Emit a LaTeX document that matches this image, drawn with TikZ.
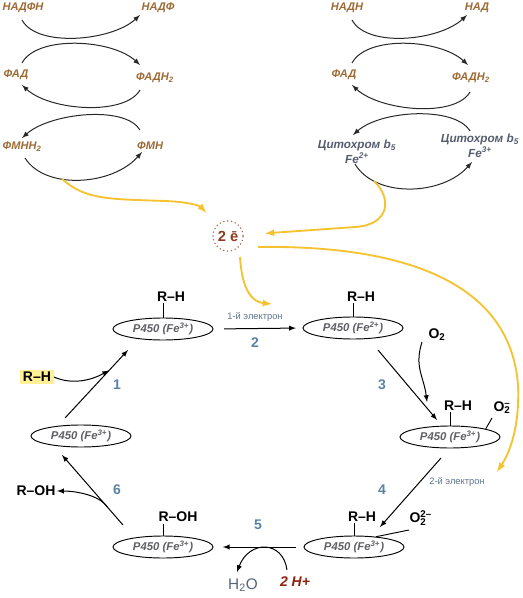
\documentclass[tikz,border=0pt]{standalone}
\usepackage{fontspec}
\setmainfont{Liberation Sans}
\usetikzlibrary{shapes.geometric, positioning}
\definecolor{cofbrown}{RGB}{158,106,52}
\definecolor{cytgrey}{RGB}{85,92,110}
\definecolor{enzgrey}{RGB}{95,95,100}
\definecolor{numblue}{RGB}{90,130,165}
\definecolor{elblue}{RGB}{90,115,140}
\definecolor{eyellow}{RGB}{245,195,50}
\definecolor{eebrown}{RGB}{140,60,30}
\definecolor{hred}{RGB}{140,35,15}
\definecolor{watergrey}{RGB}{85,100,120}
\definecolor{hlyellow}{RGB}{255,240,150}
\definecolor{arcgrey}{RGB}{40,40,40}
\tikzset{>=latex}
\tikzset{
  cof/.style={font=\bfseries\itshape\fontsize{8.3}{10}\selectfont, text=cofbrown, inner sep=1pt},
  cyto/.style={cof, text=cytgrey, align=center, font=\bfseries\itshape\fontsize{8.8}{9.5}\selectfont},
  enz/.style={draw, ellipse, line width=0.7pt, minimum width=75pt, minimum height=16.5pt,
    inner sep=0pt, text=enzgrey, font=\bfseries\itshape\fontsize{8.5}{10}\selectfont},
  grp/.style={font=\bfseries\fontsize{10.5}{12}\selectfont, inner sep=1pt},
  stepnum/.style={font=\bfseries\fontsize{10.5}{12}\selectfont, text=numblue},
  elabel/.style={font=\fontsize{7}{8}\selectfont, text=elblue},
  cyc/.style={->, line width=0.75pt, draw=arcgrey},
  rxn/.style={->, line width=0.75pt},
  eflow/.style={->, line width=1.4pt, draw=eyellow},
}
\begin{document}
\begin{tikzpicture}[x=0.75pt, y=-0.75pt]
  \useasboundingbox (0,0) rectangle (523,598);
  % NADPH side
  \node[cof] (nadfh) at (23,8) {НАДФН};
  \node[cof] (nadf) at (158,8) {НАДФ};
  \node[cof] (fadL) at (16,75) {ФАД};
  \node[cof] (fadhL) at (155,78) {ФАДН\textsubscript{2}};
  \node[cof] (fmnh) at (22,147) {ФМНН\textsubscript{2}};
  \node[cof] (fmn) at (150,146) {ФМН};
  \draw[cyc] ([shift={(-1,12)}]nadfh.center) .. controls +(15,28) and +(-28,26) .. ([shift={(-18,7)}]nadf.center);
  \draw[cyc] ([shift={(6,-12)}]fadL.center) .. controls +(15,-28) and +(-28,-26) .. ([shift={(-15,-13)}]fadhL.center);
  \draw[cyc] ([shift={(-15,12)}]fadhL.center) .. controls +(-15,26) and +(28,26) .. ([shift={(6,10)}]fadL.center);
  \draw[cyc] ([shift={(-10,-16)}]fmn.center) .. controls +(-15,-25) and +(28,-25) .. ([shift={(0,-9)}]fmnh.center);
  \draw[cyc] ([shift={(3,11)}]fmnh.center) .. controls +(20,32) and +(-30,34) .. coordinate[pos=0.37] (fmnout) ([shift={(-8,6)}]fmn.center);
  % NADH side
  \node[cof] (nadh) at (347,8) {НАДН};
  \node[cof] (nad) at (477,8) {НАД};
  \node[cof] (fadR) at (344,75) {ФАД};
  \node[cof] (fadhR) at (471,78) {ФАДН\textsubscript{2}};
  \node[cyto] (cytA) at (357,152) {Цитохром b\textsubscript{5}\\Fe\textsuperscript{2+}};
  \node[cyto] (cytB) at (480,146) {Цитохром b\textsubscript{5}\\Fe\textsuperscript{3+}};
  \draw[cyc] ([shift={(5,12)}]nadh.center) .. controls +(15,28) and +(-28,26) .. ([shift={(-10,7)}]nad.center);
  \draw[cyc] ([shift={(8,-12)}]fadR.center) .. controls +(15,-28) and +(-28,-26) .. ([shift={(-3,-13)}]fadhR.center);
  \draw[cyc] ([shift={(-1,14)}]fadhR.center) .. controls +(-15,26) and +(28,26) .. ([shift={(8,10)}]fadR.center);
  \draw[cyc] ([shift={(-10,-15)}]cytB.center) .. controls +(-15,-25) and +(28,-25) .. ([shift={(-4,-17)}]cytA.center);
  \draw[cyc] ([shift={(-2,12)}]cytA.center) .. controls +(20,34) and +(-30,34) .. coordinate[pos=0.22] (cytout) ([shift={(-8,16)}]cytB.center);
  % electrons
  \node[circle, draw=eebrown!75, dotted, line width=0.9pt, minimum size=22.5pt, inner sep=0pt,
    text=eebrown, font=\bfseries\fontsize{11}{12}\selectfont] (ee) at (228,236) {2 ē};
  \node[elabel] (el1) at (255,317) {1-й электрон};
  \node[elabel] (el2) at (457,482) {2-й электрон};
  \draw[eflow, shorten >=12pt] (fmnout) .. controls (85,200) and (110,199) .. (165,201) .. controls (190,202) and (200,206) .. (ee);
  \draw[eflow, shorten >=16pt] (cytout) .. controls (392,198) and (390,225) .. (355,227) -- (ee);
  \draw[eflow] ([shift={(12,21)}]ee.center) .. controls (242,290) and (252,302) .. ([shift={(17,-13)}]el1.center);
  \draw[eflow] ([shift={(30,11)}]ee.center) .. controls (400,245) and (510,280) .. (518,385)
    .. controls (520,430) and (508,455) .. ([shift={(40,-10)}]el2.center);
  % P450 cycle
  \node[enz] (pA) at (163,329) {P450 (Fe\textsuperscript{3+})};
  \node[grp] (rhA) at (171,297) {R–H};
  \node[enz] (pB) at (353,328) {P450 (Fe\textsuperscript{2+})};
  \node[grp] (rhB) at (361,297) {R–H};
  \node[enz] (pC) at (450,437) {P450 (Fe\textsuperscript{3+})};
  \node[grp] (rhC) at (458,406) {R–H};
  \node[grp] (o2C) at (502,408) {O\rlap{\textsuperscript{–}}\textsubscript{2}};
  \node[enz] (pD) at (354,547) {P450 (Fe\textsuperscript{3+})};
  \node[grp] (rhD) at (362,517) {R–H};
  \node[grp] (o2D) at (418,518) {O\rlap{\textsuperscript{2–}}\textsubscript{2}};
  \node[enz] (pE) at (163,547) {P450 (Fe\textsuperscript{3+})};
  \node[grp] (rohE) at (178,517) {R–OH};
  \node[enz] (pF) at (81,436) {P450 (Fe\textsuperscript{3+})};
  \node[grp, fill=hlyellow, inner sep=2pt] (rhF) at (37,377) {R–H};
  \node[grp] (rohF) at (36,491) {R–OH};
  \node[grp] (o2in) at (437,335) {O\textsubscript{2}};
  \node[grp, text=watergrey, font=\fontsize{11.5}{12}\selectfont] (h2o) at (243,585) {H\textsubscript{2}O};
  \node[grp, text=hred, font=\bfseries\itshape\fontsize{10.5}{12}\selectfont] (hplus) at (295,582) {2 H+};
  \foreach \p/\g in {pA/rhA, pB/rhB, pC/rhC, pD/rhD, pE/rohE}
    \draw[line width=0.7pt] (\p.north) -- (\p.north |- \g.south);
  \draw[line width=0.7pt] (pC.north east) -- ([shift={(-10,10)}]o2C.center);
  \draw[line width=0.7pt] (pD.25) -- ([shift={(-9,12)}]o2D.center);
  % steps
  \node[stepnum] (n1) at (117,385) {1};
  \node[stepnum] (n2) at (255,343) {2};
  \node[stepnum] (n3) at (382,385) {3};
  \node[stepnum] (n4) at (382,490) {4};
  \node[stepnum] (n5) at (258,525) {5};
  \node[stepnum] (n6) at (117,490) {6};
  \draw[rxn, shorten <=8pt, shorten >=5pt] (pA.east) -- (pB.west);
  \draw[rxn] ([shift={(25,22)}]pB.center) -- ([shift={(-13,-17)}]pC.center);
  \draw[rxn] ([shift={(-15,7)}]o2in.center) .. controls +(-8,25) and +(-3,-25) .. ([shift={(-23,-35)}]pC.center);
  \draw[rxn] ([shift={(-9,21)}]pC.center) -- ([shift={(26,-20)}]pD.center);
  \draw[rxn, shorten <=6pt, shorten >=7pt] (pD.west) -- (pE.east);
  \draw[rxn] ([shift={(-8,-12)}]hplus.center) .. controls +(-4,-30) and +(12,-32) .. ([shift={(-6,-13)}]h2o.center);
  \draw[rxn] ([shift={(-40,-22)}]pE.center) -- coordinate[pos=0.26] (j6) ([shift={(-19,19)}]pF.center);
  \draw[rxn] (j6) .. controls +(-8,-12) and +(18,0) .. (rohF.east);
  \draw[rxn] ([shift={(-16,-18)}]pF.center) -- coordinate[pos=0.7] (j1) ([shift={(-35,21)}]pA.center);
  \draw[rxn] (rhF.east) .. controls +(18,8) and +(-18,10) .. (j1);
\end{tikzpicture}
\end{document}
